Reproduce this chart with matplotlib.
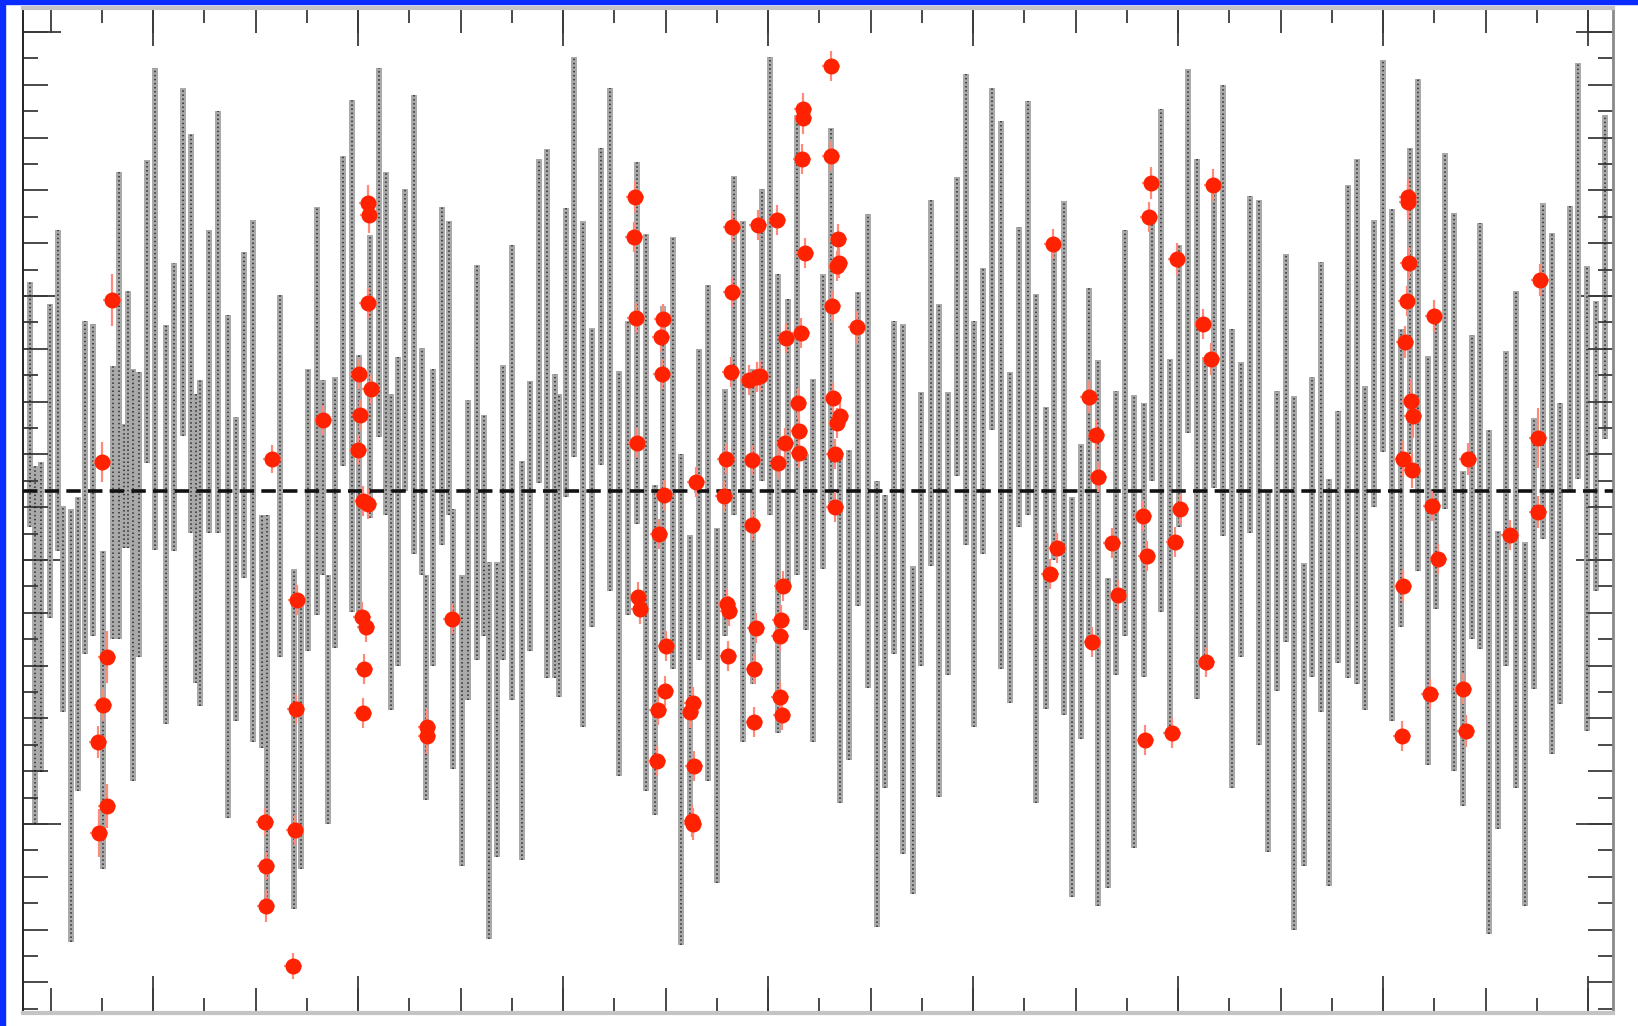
import matplotlib

matplotlib.use("Agg")
import matplotlib.pyplot as plt
import numpy as np
from matplotlib.patches import Rectangle
from matplotlib.ticker import MultipleLocator, NullLocator

# model excursions: one vertical stroke per cycle (x, upper and lower extreme)
bar_x = np.array([
    0.70, 1.20, 1.77, 2.70, 3.47, 3.97, 4.77, 5.53, 6.20, 7.03,
    8.03, 8.97, 9.63, 10.13, 10.53, 11.03, 11.63, 12.43, 13.20, 14.30,
    15.10, 15.97, 16.77, 17.27, 17.70, 18.60, 19.53, 20.53, 21.30, 22.10,
    23.03, 23.93, 24.43, 25.70,
    27.13, 27.80, 28.47, 29.37, 30.03, 30.53, 31.20, 32.03, 32.87, 33.60,
    34.70, 35.60, 36.30, 36.80, 37.47, 38.20, 39.13, 39.87, 40.30, 40.97,
    41.87, 42.60, 43.03, 43.87, 44.47, 45.37, 46.10, 46.60, 47.37, 48.03,
    48.93, 49.87, 50.70, 51.60, 52.37,
    53.20, 53.63, 54.30, 55.10, 56.03, 56.90, 57.77, 58.70, 59.57, 60.50,
    61.37, 62.30, 63.20, 63.97, 64.97, 65.80, 66.70, 67.63, 68.53, 69.37,
    70.20, 71.13, 72.03, 72.97, 73.87, 74.70, 75.53, 76.47, 77.37, 78.30,
    79.03,
    80.03, 80.80, 81.70, 82.60, 83.53, 84.47, 85.37, 86.20, 87.13, 88.00,
    88.97, 89.80, 90.77, 91.60, 92.47, 93.40, 94.30, 95.13, 96.00, 96.87,
    97.77, 98.70, 99.57, 100.47, 101.33, 102.27, 103.13, 104.10, 104.90, 105.80,
    106.63, 107.53, 108.53, 109.30, 110.23, 111.13, 112.07, 112.90, 113.80, 114.73,
    115.60, 116.50, 117.37, 118.23, 119.13, 120.03, 120.90, 121.80, 122.67, 123.57,
    124.47, 125.40, 126.27, 127.13, 128.07, 128.90, 129.83, 130.63, 131.53, 132.53,
    133.37, 134.20, 135.10, 136.00, 136.87, 137.80, 138.67, 139.53, 140.47, 141.33,
    142.23, 143.10, 144.00, 144.87, 145.73, 146.63, 147.47, 148.33, 149.30, 150.20,
    151.07, 152.00, 152.87, 153.73, 154.70, 155.53, 156.37, 157.27, 158.20,
])
bar_top = np.array([
    20.9, 2.5, 2.9, 18.7, 26.1, -1.5, -1.8, -0.6, 17.0, 16.7,
    -6.0, 12.5, 31.9, 6.7, 20.0, 12.2, 11.9, 33.1, 42.3, 16.6,
    22.8, 40.3, 35.7, 9.7, 11.1, 26.1, 38.0, 17.6, 7.4, 23.9,
    27.1, -2.4, -2.4, 19.6,
    -7.8, -11.5, 12.2, 28.4, 11.1, -8.4, 11.4, 33.5, 39.1, 13.6,
    25.6, 42.3, 31.9, 9.7, 13.4, 30.2, 39.6, 14.3, -8.4, 12.2,
    28.4, 27.0, -1.8, -8.4, 9.1, 22.6, 7.6, -7.1, -7.1, 12.6,
    24.6, 3.0, 11.0, 33.2, 34.2,
    11.7, 9.7, 28.3, 43.4, 27.0, 16.3, 34.3, 40.3, 12.0, 17.0,
    32.9, 25.7, 0.6, 18.5, 25.4, 3.7, -4.4, 14.2, 20.6, -3.7,
    10.2, 31.5, 27.0, 12.2, 30.2, 43.4, 21.7, 19.2, 37.6, 3.7,
    11.2,
    21.7, 36.3, 3.7, 4.1, 19.9, 27.7, 1.0, -0.4, 17.0, 16.7,
    -7.5, 9.9, 29.1, 18.7, 9.9, 31.4, 41.7, 17.0, 22.3, 40.3,
    37.0, 11.9, 26.4, 39.0, 19.7, 8.4, 24.8, 29.0, -0.6, 4.7,
    20.3, 13.1, -8.7, 10.0, 26.1, 9.6, 8.8, 27.9, 38.2, 13.2,
    24.6, 42.2, 33.2, 13.4, 30.6, 40.6, 16.2, 12.9, 29.5, 29.1,
    0.1, 10.0, 23.7, 9.5, -7.2, 11.4, 22.9, 1.2, 8.0, 30.6,
    33.2, 10.5, 27.1, 43.1, 28.2, 16.2, 34.3, 41.2, 13.5, 17.1,
    33.8, 27.8, 2.0, 15.6, 26.8, 6.1, -4.0, 14.0, 20.0, -5.1,
    7.3, 28.8, 25.8, 8.8, 28.5, 42.8, 22.5, 19.0, 37.6,
])
bar_bot = np.array([
    -3.6, -33.3, -28.1, -12.7, -6.0, -22.1, -45.1, -30.0, -16.3, -14.5,
    -37.8, -14.8, -14.8, -5.7, -5.7, -29.0, -16.6, 2.8, -5.9, -23.3,
    -6.0, 5.5, -4.2, -19.2, -21.5, -4.2, -4.2, -32.7, -23.0, -8.7,
    -25.1, -25.7, -41.8, -16.6,
    -41.8, -37.8, -16.0, -12.4, -8.4, -33.3, -15.7, 2.5, -12.1, -12.1,
    -2.7, 5.4, -2.4, -21.9, -17.5, 0.0, -6.3, -8.4, -30.9, -17.5,
    -5.4, -2.4, -27.8, -37.5, -20.9, -16.9, -14.5, -44.8, -36.6, -16.9,
    -20.9, -36.9, -16.0, 0.8, -18.7,
    -18.7, -20.6, -0.6, 3.4, -23.6, -13.6, 2.6, -10.0, -28.5, -12.4,
    -3.3, -30.0, -32.4, -15.1, -17.8, -45.4, -32.7, -16.9, -29.0, -39.2,
    -14.5, -2.4, -25.1, -19.3, 1.0, -2.4, -24.2, -9.3, -8.4, -13.9,
    -25.1,
    -7.8, -1.2, -31.2, -26.9, -11.5, -19.7, -43.6, -29.7, -16.3, -36.3,
    -40.3, -17.5, -7.5, -30.6, -18.4, 1.5, -5.4, -23.6, -6.3, 6.1,
    -17.8, -21.2, -3.6, -2.4, -31.2, -21.8, -6.9, -22.4, -40.6, -24.8,
    -15.1, -41.5, -39.7, -18.4, -14.5, -35.7, -18.6, 1.0, -12.1, -23.9,
    -3.6, 5.8, -20.8, -17.2, 0.3, -4.5, -29.7, -16.6, -4.2, -25.4,
    -36.1, -20.0, -15.1, -43.9, -37.5, -18.6, -22.1, -39.5, -17.2, -18.7,
    -19.3, -21.9, -1.6, 3.9, -23.0, -13.6, 3.7, -8.0, -27.4, -11.8,
    -1.8, -28.0, -31.5, -14.8, -15.8, -44.3, -33.8, -17.5, -29.7, -41.5,
    -19.8, -4.8, -26.3, -21.3, 0.0, 1.2, -24.0, -10.0, 5.2,
])

# measured points with their uncertainties
pt_x = [
    8.87, 7.93, 8.43, 8.03, 7.53, 8.37, 7.60, 24.93, 24.20, 24.27, 24.27,
    27.43, 27.30, 27.20, 27.03, 30.03, 34.53, 34.63, 34.47, 33.60, 34.80,
    33.70, 33.53, 34.03, 34.53, 33.93, 34.27, 34.10, 34.03, 40.37, 40.37, 42.87,
    61.20, 61.13, 61.30, 61.37, 61.53, 61.70,
    64.03, 63.80, 63.87, 64.10, 63.63, 64.27, 64.20, 63.53, 63.43,
    67.27, 67.03, 66.70, 67.10, 66.87, 66.97,
    70.93, 70.87, 70.80, 70.27, 70.10, 70.37, 70.63, 70.47,
    73.53, 72.63, 73.37, 73.70, 72.87, 72.93, 73.27, 73.13, 73.10,
    75.43, 76.30, 76.20, 75.53, 76.03, 75.80, 75.70, 75.70, 75.87,
    78.03, 77.97, 77.87, 78.20, 77.77, 77.53, 77.63, 77.63,
    80.77, 80.77, 81.53, 81.60, 81.37, 80.87, 83.37, 81.03, 81.70, 81.37, 81.20, 81.20,
    103.03, 103.43, 102.70,
    106.63, 107.27, 107.53, 106.93, 108.93, 109.53, 112.80, 112.60, 111.97, 112.37,
    112.20, 115.37, 115.70, 115.20, 114.87, 118.97, 118.03, 118.77, 118.30,
    138.47, 138.50, 138.63, 138.37, 138.20, 138.80, 138.97, 138.03, 138.87, 138.03,
    137.93, 141.13, 140.87, 141.47, 140.70, 144.53, 144.03, 144.27, 148.70,
    151.70, 151.47, 151.47,
]
pt_y = [
    19.1, 2.9, -16.6, -21.4, -25.1, -31.5, -34.2, 3.2, -33.1, -37.5, -41.5,
    -10.9, -21.8, -33.9, -47.5, 7.1, 28.8, 27.6, 18.8, 11.7, 10.2,
    7.6, 4.1, -1.0, -1.3, -12.6, -13.6, -17.8, -22.2, -23.6, -24.5, -12.8,
    29.4, 25.4, 17.3, 4.8, -10.6, -11.8,
    17.2, 15.4, 11.7, -0.4, -4.3, -15.5, -20.0, -21.9, -27.0,
    0.9, -21.2, -22.1, -27.5, -33.0, -33.3,
    26.4, 19.9, 11.9, 3.2, -0.5, -11.3, -12.0, -16.5,
    26.6, 11.1, 11.4, 11.5, 3.1, -3.4, -13.7, -17.8, -23.1,
    27.1, 15.3, 4.8, 2.8, -9.5, -12.9, -14.5, -20.6, -22.4,
    38.2, 37.3, 33.2, 23.8, 15.8, 8.8, 6.0, 3.8,
    42.5, 33.5, 25.2, 22.8, 22.5, 18.5, 16.4, 9.3, 7.5, 6.8, 3.7, -1.6,
    24.7, -5.7, -8.3,
    9.4, 5.6, 1.4, -15.1, -5.2, -10.4, 30.8, 27.4, -2.5, -6.5,
    -24.9, 23.2, -1.8, -5.1, -24.2, 30.6, 16.7, 13.2, -17.1,
    29.4, 28.9, 22.8, 19.0, 14.9, 9.0, 7.5, 3.2, 2.1, -9.5,
    -24.5, 17.5, -1.5, -6.8, -20.3, 3.2, -19.8, -24.0, -4.4,
    21.1, 5.3, -2.1,
]
pt_err = [
    2.6, 2.0, 2.6, 1.6, 1.6, 2.2, 2.4, 1.4, 1.4, 1.4, 1.6,
    1.5, 1.5, 1.5, 1.3, 1.5, 1.8, 1.8, 1.5, 1.5, 1.5,
    1.5, 1.5, 1.5, 1.5, 1.5, 1.5, 1.5, 1.5, 1.8, 1.8, 1.5,
    1.6, 1.5, 1.5, 1.5, 1.5, 1.5,
    1.5, 1.5, 1.5, 1.5, 1.5, 1.5, 1.5, 1.5, 1.5,
    1.5, 1.6, 1.6, 1.5, 1.6, 1.6,
    1.5, 1.5, 1.5, 1.5, 1.5, 1.5, 1.5, 1.5,
    1.5, 1.5, 1.5, 1.5, 1.5, 1.5, 1.5, 1.5, 1.5,
    1.5, 1.5, 1.5, 1.5, 1.5, 1.5, 1.5, 1.5, 1.5,
    1.6, 1.6, 1.5, 1.5, 1.5, 1.5, 1.5, 1.5,
    1.5, 1.5, 1.5, 1.5, 1.5, 1.5, 1.6, 1.5, 1.5, 1.5, 1.5, 1.5,
    1.5, 1.5, 1.5,
    1.6, 1.5, 1.5, 1.5, 1.5, 1.5, 1.6, 1.5, 1.5, 1.5,
    1.5, 1.6, 1.5, 1.5, 1.5, 1.6, 1.5, 1.6, 1.5,
    1.8, 1.8, 1.6, 1.5, 1.6, 2.2, 2.2, 1.8, 1.8, 1.6,
    1.5, 1.6, 1.5, 1.5, 1.5, 1.6, 1.5, 1.6, 1.5,
    1.6, 3.0, 1.6,
]

W, H = 1638, 1026
fig = plt.figure(figsize=(W / 100, H / 100), dpi=100)
fig.patch.set_facecolor("white")
ax = fig.add_axes([23 / W, 13 / H, 1590 / W, 1005 / H])

ax.vlines(bar_x, bar_bot, bar_top, color="#a9a9a9", lw=4.3, zorder=1)
ax.vlines(bar_x, bar_bot, bar_top, color="black", lw=1.1, linestyles="dotted", alpha=0.75, zorder=2)
ax.axhline(0.0, color="#111111", lw=2.6, dashes=(4, 2), zorder=3)
ax.errorbar(pt_x, pt_y, yerr=pt_err, xerr=0.9, fmt="o", ms=10.5, color="#ff2200", mec="#ff2200",
            ecolor="#ff8a7a", elinewidth=1.6, capsize=0, zorder=5)

ax.set_xlim(0, 159)
ax.set_ylim(-52.2, 48.3)

tick_color = "#3a3a3a"
ax.xaxis.set_major_locator(MultipleLocator(10.25, offset=13.0))
ax.xaxis.set_minor_locator(MultipleLocator(5.125, offset=13.0))
ax.yaxis.set_major_locator(MultipleLocator(5.28, offset=-6.9))
ax.yaxis.set_minor_locator(MultipleLocator(2.64, offset=-6.9))
ax.tick_params(which="both", direction="in", top=True, right=True, color=tick_color, width=1.3,
               labelbottom=False, labelleft=False)
ax.tick_params(which="major", length=18)
ax.tick_params(which="minor", length=10.5)

# longest ticks every fourth (x) / tenth (y) step
for side in ("top", "bottom"):
    sec = ax.secondary_xaxis(side)
    sec.xaxis.set_major_locator(MultipleLocator(20.5, offset=13.0))
    sec.xaxis.set_minor_locator(NullLocator())
    sec.tick_params(direction="in", length=27, width=1.3, color=tick_color,
                    labeltop=False, labelbottom=False)
    for sp in sec.spines.values():
        sp.set_visible(False)
for side in ("left", "right"):
    sec = ax.secondary_yaxis(side)
    sec.yaxis.set_major_locator(MultipleLocator(26.4, offset=-6.9))
    sec.yaxis.set_minor_locator(NullLocator())
    sec.tick_params(direction="in", length=27, width=1.3, color=tick_color,
                    labelleft=False, labelright=False)
    for sp in sec.spines.values():
        sp.set_visible(False)

ax.spines["top"].set_color("#c4c4c4")
ax.spines["top"].set_linewidth(3.0)
ax.spines["bottom"].set_color("#c4c4c4")
ax.spines["bottom"].set_linewidth(3.0)
ax.spines["left"].set_color("#222222")
ax.spines["left"].set_linewidth(1.4)
ax.spines["right"].set_color("#8a8a8a")
ax.spines["right"].set_linewidth(2.0)

# blue frame strips along the left and top edges
fig.patches.append(Rectangle((0, 0), 5 / W, 1, transform=fig.transFigure, color="#0a2cff", zorder=10))
fig.patches.append(Rectangle((0, 1 - 4 / H), 1, 4 / H, transform=fig.transFigure, color="#0a2cff", zorder=10))

fig.savefig("out.png", dpi=100)
plt.close(fig)
